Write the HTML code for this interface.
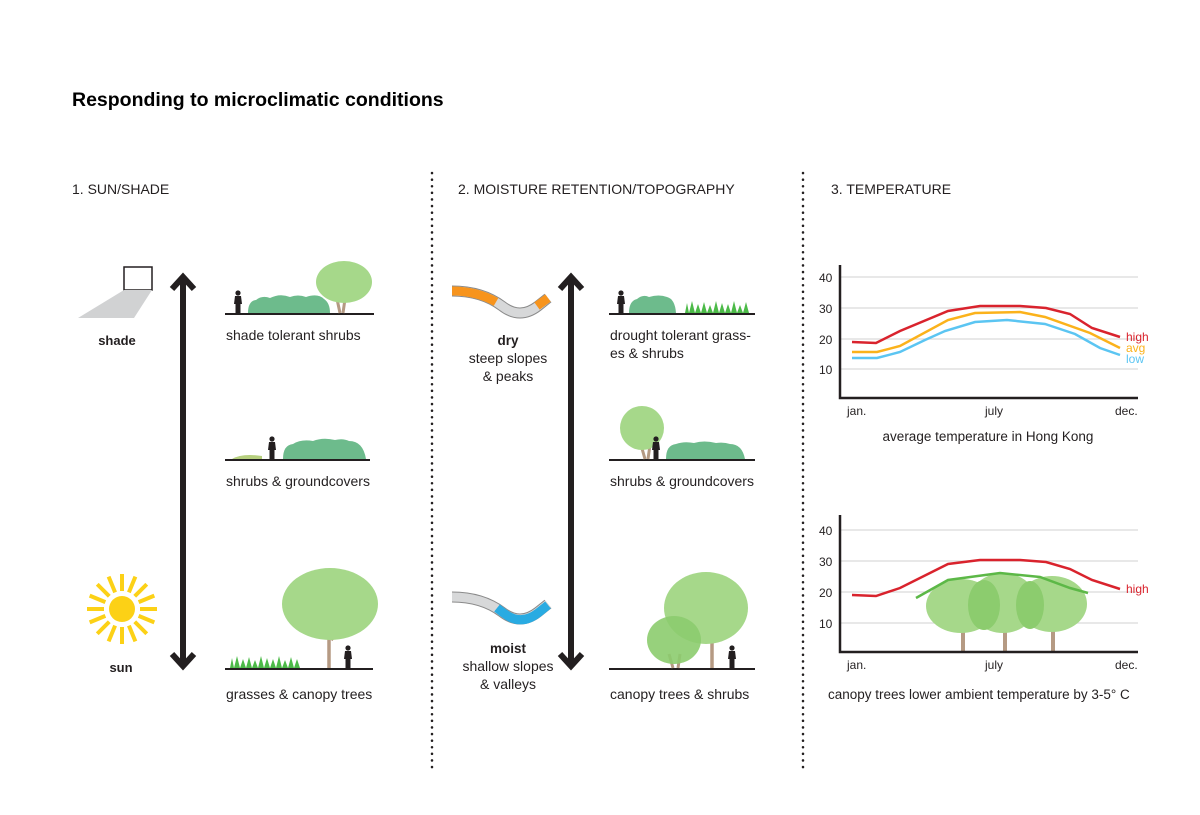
<!DOCTYPE html>
<html><head><meta charset="utf-8"><style>
html,body{margin:0;padding:0;background:#fff;width:1200px;height:815px;overflow:hidden}
text{font-family:"Liberation Sans",sans-serif;fill:#231f20}
</style></head><body>
<svg width="1200" height="815" viewBox="0 0 1200 815" xmlns="http://www.w3.org/2000/svg">
<defs>
<g id="man"><circle cx="0" cy="-16" r="2.6" fill="#231f20"/><path d="M-3,-13 h6 l1,8 h-1.5 v9 h-5 v-9 h-1.5z" fill="#231f20"/></g>
</defs>
<text x="72" y="106" font-size="19.5" font-weight="bold" style="fill:#000">Responding to microclimatic conditions</text>
<text x="72" y="194" font-size="14">1. SUN/SHADE</text>
<text x="458" y="194" font-size="14">2. MOISTURE RETENTION/TOPOGRAPHY</text>
<text x="831" y="194" font-size="14">3. TEMPERATURE</text>
<line x1="432" y1="173" x2="432" y2="772" stroke="#231f20" stroke-width="2.5" stroke-dasharray="0.1 6.5" stroke-linecap="round"/>
<line x1="803" y1="173" x2="803" y2="772" stroke="#231f20" stroke-width="2.5" stroke-dasharray="0.1 6.5" stroke-linecap="round"/>

<g stroke="#231f20" stroke-width="6" fill="none">
<line x1="183" y1="276" x2="183" y2="665"/><polyline points="172,289 183,277 194,289"/><polyline points="172,654 183,666 194,654"/>
<line x1="571" y1="276" x2="571" y2="665"/><polyline points="560,289 571,277 582,289"/><polyline points="560,654 571,666 582,654"/>
</g>

<rect x="124" y="267" width="28" height="23" fill="none" stroke="#231f20" stroke-width="1.5"/>
<polygon points="124,290 152,290 134,318 78,318" fill="#d1d2d3"/>
<text x="117" y="345" font-size="13" font-weight="bold" text-anchor="middle">shade</text>
<g transform="translate(122,609)"><circle r="13" fill="#fcd116"/>
<g stroke="#fcd116" stroke-width="4">
<line x1="0" y1="-18" x2="0" y2="-35" transform="rotate(0)"/><line x1="0" y1="-18" x2="0" y2="-35" transform="rotate(22.5)"/><line x1="0" y1="-18" x2="0" y2="-35" transform="rotate(45)"/><line x1="0" y1="-18" x2="0" y2="-35" transform="rotate(67.5)"/><line x1="0" y1="-18" x2="0" y2="-35" transform="rotate(90)"/><line x1="0" y1="-18" x2="0" y2="-35" transform="rotate(112.5)"/><line x1="0" y1="-18" x2="0" y2="-35" transform="rotate(135)"/><line x1="0" y1="-18" x2="0" y2="-35" transform="rotate(157.5)"/><line x1="0" y1="-18" x2="0" y2="-35" transform="rotate(180)"/><line x1="0" y1="-18" x2="0" y2="-35" transform="rotate(202.5)"/><line x1="0" y1="-18" x2="0" y2="-35" transform="rotate(225)"/><line x1="0" y1="-18" x2="0" y2="-35" transform="rotate(247.5)"/><line x1="0" y1="-18" x2="0" y2="-35" transform="rotate(270)"/><line x1="0" y1="-18" x2="0" y2="-35" transform="rotate(292.5)"/><line x1="0" y1="-18" x2="0" y2="-35" transform="rotate(315)"/><line x1="0" y1="-18" x2="0" y2="-35" transform="rotate(337.5)"/>
</g></g>
<text x="121" y="672" font-size="13" font-weight="bold" text-anchor="middle">sun</text>

<line x1="225" y1="314" x2="374" y2="314" stroke="#231f20" stroke-width="2"/>
<use href="#man" x="238" y="309"/>
<path d="M248,313 q0,-12 8,-13 q6,-5 14,-2 q10,-5 20,-1 q8,-3 16,0 q12,-4 18,2 q6,4 6,14z" fill="#6dbb8c"/>
<path d="M340,313 l-3,-14 M343,313 l2,-14" stroke="#b59a83" stroke-width="3"/>
<ellipse cx="344" cy="282" rx="28" ry="21" fill="#a6d88a"/>
<text x="226" y="340" font-size="14">shade tolerant shrubs</text>

<line x1="225" y1="460" x2="370" y2="460" stroke="#231f20" stroke-width="2"/>
<path d="M232,459 q10,-6 30,-3 v3z" fill="#b6cf7e"/>
<use href="#man" x="272" y="455"/>
<path d="M283,459 q0,-14 10,-15 q8,-5 20,-3 q10,-4 22,-1 q8,-2 14,1 q14,0 17,18z" fill="#6dbb8c"/>
<text x="226" y="486" font-size="14">shrubs &amp; groundcovers</text>

<line x1="225" y1="669" x2="373" y2="669" stroke="#231f20" stroke-width="2"/>
<path d="M230,668 l2,-10 2,10 3,-12 3,12 3,-9 3,9 3,-11 3,11 3,-8 3,8 3,-12 3,12 3,-10 3,10 3,-9 3,9 3,-12 3,12 3,-8 3,8 3,-11 3,11 3,-9 3,9z" fill="#4cba48"/>
<path d="M329,668 v-30 l-10,-12 M331,640 l10,-12" stroke="#b59a83" stroke-width="3.5" fill="none"/>
<ellipse cx="330" cy="604" rx="48" ry="36" fill="#a6d88a"/>
<use href="#man" x="348" y="664"/>
<text x="226" y="699" font-size="14">grasses &amp; canopy trees</text>

<path d="M452,291 q30,0 50,15 q18,14 36,0 l10,-8" fill="none" stroke="#8a8a8a" stroke-width="11"/>
<path d="M452,291 q30,0 50,15 q18,14 36,0 l10,-8" fill="none" stroke="#d7d8d9" stroke-width="9"/>
<path d="M452,291 q25,0 44,11" fill="none" stroke="#f7941d" stroke-width="9"/>
<path d="M537,306 l11,-8" fill="none" stroke="#f7941d" stroke-width="9"/>
<text x="508" y="345" font-size="13.5" font-weight="bold" text-anchor="middle">dry</text>
<text x="508" y="363" font-size="14" text-anchor="middle">steep slopes</text>
<text x="508" y="381" font-size="14" text-anchor="middle">&amp; peaks</text>

<path d="M452,597 q30,0 50,15 q18,14 36,0 l10,-8" fill="none" stroke="#8a8a8a" stroke-width="11"/>
<path d="M452,597 q30,0 50,15 q18,14 36,0 l10,-8" fill="none" stroke="#d7d8d9" stroke-width="9"/>
<path d="M497,608 q5,4 8,6 q16,12 33,-1 l10,-8" fill="none" stroke="#29abe2" stroke-width="9"/>
<text x="508" y="653" font-size="13.5" font-weight="bold" text-anchor="middle">moist</text>
<text x="508" y="671" font-size="14" text-anchor="middle">shallow slopes</text>
<text x="508" y="689" font-size="14" text-anchor="middle">&amp; valleys</text>

<line x1="609" y1="314" x2="755" y2="314" stroke="#231f20" stroke-width="2"/>
<use href="#man" x="621" y="309"/>
<path d="M629,313 q0,-12 8,-14 q6,-5 12,-2 q10,-3 18,0 q8,2 9,16z" fill="#6dbb8c"/>
<path d="M685,313 l2,-10 2,10 3,-12 3,12 3,-9 3,9 3,-11 3,11 3,-8 3,8 3,-12 3,12 3,-10 3,10 3,-9 3,9 3,-12 3,12 3,-8 3,8 3,-11 3,11z" fill="#4cba48"/>
<text x="610" y="340" font-size="14">drought tolerant grass-</text>
<text x="610" y="358" font-size="14">es &amp; shrubs</text>

<line x1="609" y1="460" x2="755" y2="460" stroke="#231f20" stroke-width="2"/>
<path d="M645,459 l-4,-14 M648,459 l2,-14" stroke="#b59a83" stroke-width="3"/>
<ellipse cx="642" cy="428" rx="22" ry="22" fill="#a6d88a"/>
<use href="#man" x="656" y="455"/>
<path d="M666,459 q0,-14 10,-15 q8,-3 18,-1 q10,-3 22,0 q8,-1 14,1 q12,0 15,15z" fill="#6dbb8c"/>
<text x="610" y="486" font-size="14">shrubs &amp; groundcovers</text>

<line x1="609" y1="669" x2="755" y2="669" stroke="#231f20" stroke-width="2"/>
<path d="M712,668 v-30 M710,640 l-10,-10 M714,640 l10,-10" stroke="#b59a83" stroke-width="3.5" fill="none"/>
<ellipse cx="706" cy="608" rx="42" ry="36" fill="#a6d88a"/>
<path d="M673,668 l-4,-14 M678,668 l2,-14" stroke="#b59a83" stroke-width="3"/>
<ellipse cx="674" cy="640" rx="27" ry="24" fill="#8ccc6e" opacity="0.9"/>
<use href="#man" x="732" y="664"/>
<text x="610" y="699" font-size="14">canopy trees &amp; shrubs</text>

<g stroke="#d9dadb" stroke-width="1.2"><line x1="840" y1="277" x2="1138" y2="277"/><line x1="840" y1="308" x2="1138" y2="308"/><line x1="840" y1="339" x2="1138" y2="339"/><line x1="840" y1="369" x2="1138" y2="369"/></g>
<polyline points="840,265 840,398 1138,398" fill="none" stroke="#231f20" stroke-width="2.5"/>
<g font-size="12"><text x="819" y="282">40</text><text x="819" y="313">30</text><text x="819" y="344">20</text><text x="819" y="374">10</text>
<text x="847" y="415">jan.</text><text x="985" y="415">july</text><text x="1115" y="415">dec.</text></g>
<polyline points="852,352 877,352 900,346 948,320 975,313 1020,312 1045,317 1090,333 1120,348" fill="none" stroke="#fbb21b" stroke-width="2.5"/>
<polyline points="852,358 877,358 900,352 925,340 945,331 975,322 1007,320 1045,324 1075,334 1100,348 1120,355" fill="none" stroke="#5bc5f2" stroke-width="2.5"/>
<polyline points="852,342 876,343 900,331 948,311 980,306 1020,306 1046,308 1070,314 1092,328 1120,337" fill="none" stroke="#d9232d" stroke-width="2.5"/>
<text x="1126" y="341" font-size="12" style="fill:#d9232d">high</text>
<text x="1126" y="352" font-size="12" style="fill:#fbb21b">avg</text>
<text x="1126" y="363" font-size="12" style="fill:#5bc5f2">low</text>
<text x="988" y="441" font-size="13.5" text-anchor="middle">average temperature in Hong Kong</text>

<g stroke="#d9dadb" stroke-width="1.2"><line x1="840" y1="530" x2="1138" y2="530"/><line x1="840" y1="561" x2="1138" y2="561"/><line x1="840" y1="592" x2="1138" y2="592"/><line x1="840" y1="623" x2="1138" y2="623"/></g>
<g stroke="#b59a83" stroke-width="4"><line x1="963" y1="622" x2="963" y2="652"/><line x1="1005" y1="622" x2="1005" y2="652"/><line x1="1053" y1="622" x2="1053" y2="652"/></g>
<g fill="#a6d88a"><ellipse cx="961" cy="606" rx="35" ry="27"/><ellipse cx="1003" cy="603" rx="34" ry="30"/><ellipse cx="1052" cy="604" rx="35" ry="28"/></g>
<g fill="#8ccc6e"><ellipse cx="984" cy="605" rx="16" ry="25"/><ellipse cx="1030" cy="605" rx="14" ry="24"/></g>
<polyline points="840,515 840,652 1138,652" fill="none" stroke="#231f20" stroke-width="2.5"/>
<g font-size="12"><text x="819" y="535">40</text><text x="819" y="566">30</text><text x="819" y="597">20</text><text x="819" y="628">10</text>
<text x="847" y="669">jan.</text><text x="985" y="669">july</text><text x="1115" y="669">dec.</text></g>
<polyline points="852,595 876,596 900,588 948,564 980,560 1020,560 1046,562 1070,569 1092,580 1120,589" fill="none" stroke="#d9232d" stroke-width="2.5"/>
<polyline points="916,598 948,580 1000,573 1040,577 1070,588 1088,593" fill="none" stroke="#5cb847" stroke-width="2.5"/>
<text x="1126" y="593" font-size="12" style="fill:#d9232d">high</text>
<text x="828" y="699" font-size="13.5">canopy trees lower ambient temperature by 3-5° C</text>
</svg>
</body></html>
